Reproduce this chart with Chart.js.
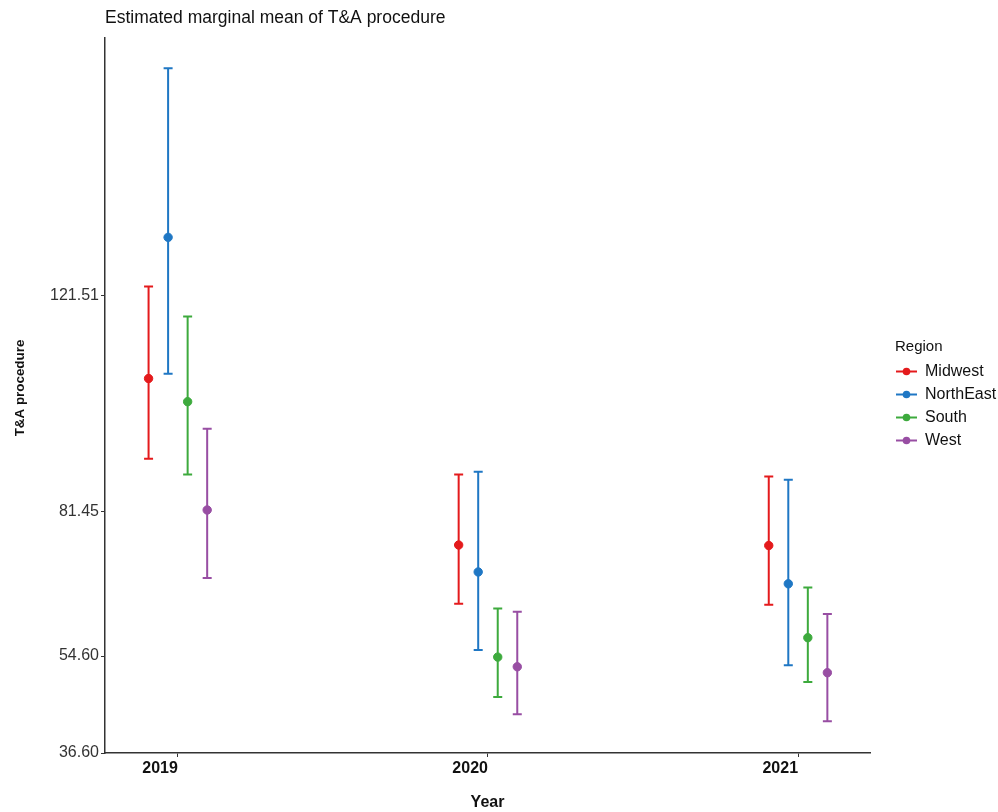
<!DOCTYPE html>
<html>
<head>
<meta charset="utf-8">
<script src="https://cdn.jsdelivr.net/npm/chart.js@4"></script>
<style>
  html, body { margin: 0; padding: 0; background: #fff; }
  #wrap { width: 998px; height: 812px; }
</style>
</head>
<body>
<div id="wrap"><canvas id="chart"></canvas></div>
<script>
const years = [2019, 2020, 2021]
const regions = ['Midwest', 'NorthEast', 'South', 'West']
const colors = ['#E41A1C', '#1F77C4', '#3DAA3D', '#984EA3']

// estimated means and 95% CI per region, one entry per year
const means = [
  [106.1, 75.2, 75.1],
  [132.3, 70.2, 68.0],
  [101.8, 54.4, 58.0],
  [81.7, 52.6, 51.5]
]
const lower = [
  [91.2, 64.3, 64.1],
  [107.0, 55.7, 52.9],
  [88.3, 47.0, 49.8],
  [69.1, 43.8, 42.5]
]
const upper = [
  [123.2, 88.3, 87.9],
  [163.7, 88.8, 87.3],
  [117.6, 63.4, 67.3],
  [96.8, 62.8, 62.4]
]
const yTicks = [36.60, 54.60, 81.45, 121.51]

const FONT = '"Liberation Sans", Arial, sans-serif'
const dodge = 0.063

function build () {
  const ctx = document.getElementById('chart').getContext('2d')

  const datasets = regions.map((name, i) => ({
    label: name,
    data: years.map((yr, j) => ({
      x: yr + (i - 1.5) * dodge,
      y: means[i][j],
      lo: lower[i][j],
      hi: upper[i][j]
    })),
    backgroundColor: colors[i],
    borderColor: colors[i],
    pointRadius: 4.2,
    pointHoverRadius: 4.2,
    showLine: false
  }))

  // error bars behind the points
  const errorBars = {
    id: 'errorBars',
    beforeDatasetsDraw (chart) {
      const c = chart.ctx
      const xs = chart.scales.x
      const ys = chart.scales.y
      c.save()
      chart.data.datasets.forEach(ds => {
        c.strokeStyle = ds.borderColor
        c.lineWidth = 2
        ds.data.forEach(p => {
          const px = xs.getPixelForValue(p.x)
          const top = ys.getPixelForValue(p.hi)
          const bot = ys.getPixelForValue(p.lo)
          c.beginPath()
          c.moveTo(px, top); c.lineTo(px, bot)
          c.moveTo(px - 4.5, top); c.lineTo(px + 4.5, top)
          c.moveTo(px - 4.5, bot); c.lineTo(px + 4.5, bot)
          c.stroke()
        })
      })
      c.restore()
    }
  }

  // title, y axis title and ggplot-like legend
  const decorations = {
    id: 'decorations',
    afterDraw (chart) {
      const c = chart.ctx
      c.save()
      c.fillStyle = '#111'
      c.font = '17.5px ' + FONT
      c.textBaseline = 'middle'
      c.textAlign = 'left'
      c.fillText('Estimated marginal mean of T&A procedure', chart.chartArea.left, 18)

      c.save()
      c.translate(20, 388)
      c.rotate(-Math.PI / 2)
      c.textAlign = 'center'
      c.font = 'bold 13.4px ' + FONT
      c.fillText('T&A procedure', 0, 0)
      c.restore()

      c.font = '15px ' + FONT
      c.fillText('Region', 895, 347)
      c.font = '16px ' + FONT
      chart.data.datasets.forEach((ds, i) => {
        const y = 371.5 + i * 23
        c.strokeStyle = ds.borderColor
        c.fillStyle = ds.borderColor
        c.lineWidth = 2
        c.beginPath()
        c.moveTo(896, y); c.lineTo(917, y)
        c.stroke()
        c.beginPath()
        c.arc(906.5, y, 3.8, 0, Math.PI * 2)
        c.fill()
        c.fillStyle = '#111'
        c.fillText(ds.label, 925, y)
      })
      c.restore()
    }
  }

  new Chart(ctx, {
    type: 'scatter',
    data: { datasets },
    options: {
      responsive: true,
      maintainAspectRatio: false,
      animation: false,
      layout: { padding: { top: 38, left: 0, right: 128, bottom: 0 } },
      scales: {
        x: {
          type: 'linear',
          min: 2018.765,
          max: 2021.232,
          afterBuildTicks: scale => { scale.ticks = years.map(v => ({ value: v })) },
          afterFit: scale => { scale.height = 59 },
          border: { display: true, color: '#333', width: 1.5 },
          grid: { display: true, drawOnChartArea: false, drawTicks: true, tickLength: 4, color: '#333' },
          ticks: {
            callback: v => String(v),
            color: '#111',
            padding: 2,
            align: 'end',
            maxRotation: 0,
            font: { family: FONT, size: 16, weight: 'bold' }
          },
          title: {
            display: true,
            text: 'Year',
            color: '#111',
            padding: { top: 6, bottom: 0 },
            font: { family: FONT, size: 16, weight: 'bold' }
          }
        },
        y: {
          min: 36.6,
          max: 169.3,
          afterBuildTicks: scale => { scale.ticks = yTicks.map(v => ({ value: v })) },
          afterFit: scale => { scale.width = 105 },
          border: { display: true, color: '#333', width: 1.5 },
          grid: { display: true, drawOnChartArea: false, drawTicks: true, tickLength: 4, color: '#333' },
          ticks: {
            callback: v => v.toFixed(2),
            color: '#333',
            padding: 2,
            font: { family: FONT, size: 16 }
          },
          title: { display: false }
        }
      },
      plugins: {
        legend: { display: false },
        title: { display: false },
        tooltip: { enabled: false }
      }
    },
    plugins: [errorBars, decorations]
  })
}

build()
</script>
</body>
</html>
